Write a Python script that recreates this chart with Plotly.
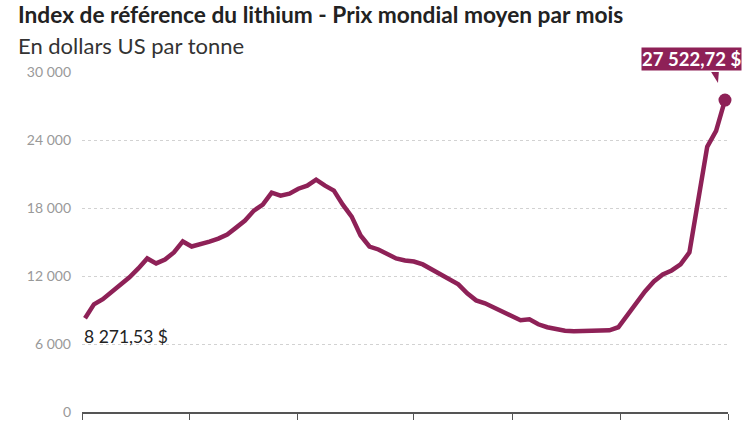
import plotly.graph_objects as go

# ---- data (monthly average price, USD per tonne) ----
months = list(range(73))
prices = [8271.53, 9500, 9950, 10560, 11260, 11880, 12670, 13550, 13110, 13460,
          14080, 15050, 14600, 14870, 15040, 15300, 15660, 16270, 16890, 17770,
          18300, 19350, 19090, 19260, 19700, 19970, 20500, 19970, 19530, 18300,
          17240, 15570, 14600, 14340, 13900, 13550, 13370, 13280, 13020, 12580,
          12140, 11790, 11260, 10470, 9850, 9590, 9240, 8800, 8450, 8100,
          8180, 7740, 7480, 7300, 7170, 7130, 7130, 7130, 7130, 7210,
          7480, 8530, 9590, 10640, 11520, 12140, 12490, 13020, 14080, 18500,
          23400, 24800, 27522.72]
x_tick_positions = [-0.34, 11.7, 23.96, 37.0, 48.15, 60.3, 72.34]
y_tick_values = [0, 6000, 12000, 18000, 24000, 30000]
y_tick_labels = ["0", "6 000", "12 000", "18 000", "24 000", "30 000"]

title_text = "Index de référence du lithium - Prix mondial moyen par mois"
subtitle_text = "En dollars US par tonne"

COLOR = "#8e2157"
FONT = "Lato"


def fr(v):
    s = f"{v:,.2f}".replace(",", " ").replace(".", ",")
    return s + " $"


fig = go.Figure()
fig.add_trace(go.Scatter(x=months, y=prices, mode="lines",
                         line=dict(color=COLOR, width=4.5),
                         hoverinfo="skip", cliponaxis=False))
fig.add_trace(go.Scatter(x=[months[-1]], y=[prices[-1]], mode="markers",
                         marker=dict(color=COLOR, size=13),
                         hoverinfo="skip", cliponaxis=False))

# pointer triangle under the end label
fig.add_shape(type="path", xref="x", yref="y",
              xsizemode="pixel", ysizemode="pixel",
              xanchor=months[-1], yanchor=prices[-1],
              path="M -15,30 L -6,30 L -7,17 Z",
              fillcolor=COLOR, line=dict(width=0))

fig.add_annotation(x=months[-1], y=prices[-1], text="<b>" + fr(prices[-1]) + "</b>",
                   showarrow=False, xanchor="right", yanchor="bottom",
                   xshift=17, yshift=29, bgcolor=COLOR, borderpad=0,
                   font=dict(family=FONT, size=18.5, color="white"))
fig.add_annotation(x=months[0], y=prices[0], text=fr(prices[0]),
                   showarrow=False, xanchor="left", yanchor="top",
                   xshift=-3, yshift=-6,
                   font=dict(family=FONT, size=17.5, color="#222"))

fig.add_annotation(xref="paper", yref="paper", x=(16 - 82) / 646, y=(412 - 45) / 340,
                   xanchor="left", yanchor="middle", text=subtitle_text, showarrow=False,
                   font=dict(family=FONT, size=22, color="#333"))

fig.update_layout(
    width=749, height=421,
    margin=dict(l=82, r=21, t=72, b=9),
    paper_bgcolor="white", plot_bgcolor="white",
    showlegend=False,
    title=dict(text="<b>" + title_text + "</b>", x=18 / 749, xref="container",
               y=1 - 15 / 421, yref="container", xanchor="left", yanchor="middle",
               font=dict(family=FONT, size=22.7, color="#222")),
    xaxis=dict(range=[x_tick_positions[0], x_tick_positions[-1]],
               tickvals=x_tick_positions, showticklabels=False,
               ticks="outside", ticklen=6, tickcolor="#555", tickwidth=1,
               showline=True, linecolor="#555", linewidth=1.5,
               showgrid=False, zeroline=False, fixedrange=True, automargin=False),
    yaxis=dict(range=[0, 30000], tickvals=y_tick_values, ticktext=y_tick_labels,
               showgrid=True, gridcolor="#d2d2d2", griddash="dot", gridwidth=1,
               zeroline=False, ticks="", ticklabelstandoff=10, automargin=False,
               tickfont=dict(family=FONT, size=14, color="#999"), fixedrange=True),
)

fig.write_html("out.html", config={"displayModeBar": False},
               post_script="document.body.style.margin='0';")
